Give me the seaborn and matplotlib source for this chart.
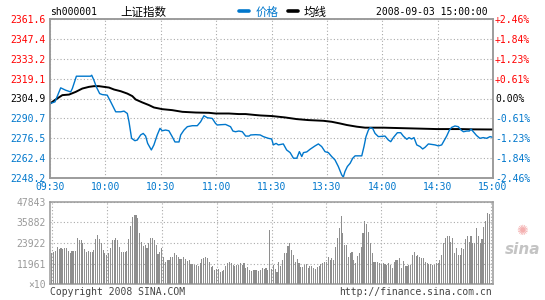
import matplotlib
matplotlib.use("Agg")
import matplotlib.pyplot as plt
import seaborn as sns
import pandas as pd
from matplotlib.lines import Line2D
from matplotlib.font_manager import FontProperties

# ---------------- data ----------------
price_min = [0, 2.7, 5.8, 8.5, 11.2, 12.1, 14.3, 22.0, 22.6, 23.8, 25.1, 26.9, 28.3, 31.0, 32.9,
             35.6, 38.3, 40.1, 41.9, 42.8, 44.2, 46.0, 47.3, 49.1, 50.5, 51.8, 52.9, 54.9, 56.3,
             58.1, 59.6, 60.8, 62.6, 64.4, 66.2, 67.7, 69.9, 70.8, 72.6, 74.4, 77.1, 79.8, 81.6,
             83.4, 85.2, 87.9, 89.7, 90.6, 92.4, 95.1, 97.8, 99.1, 100.5, 102.3, 104.2, 106.0,
             107.8, 108.7, 111.4, 113.9, 115.6, 118.3, 120.1, 121.0, 122.5, 123.7, 126.4, 128.2,
             130.1, 131.9, 133.7, 135.1, 136.4, 137.3, 139.1, 140.9, 143.6, 145.4, 147.2, 149.0,
             150.8, 152.6, 154.4, 156.2, 158.0, 158.9, 159.8, 161.1, 162.6, 164.0, 165.3, 168.9,
             170.1, 171.2, 172.5, 173.4, 174.8, 176.1, 177.9, 181.5, 183.3, 184.6, 186.0, 188.2,
             190.0, 191.4, 193.3, 194.5, 195.9, 197.2, 198.7, 200.5, 201.9, 203.2, 205.0, 208.6,
             210.4, 212.2, 213.5, 214.9, 216.4, 217.6, 219.4, 221.2, 222.7, 224.0, 225.8, 227.2,
             228.1, 229.5, 231.1, 232.9, 234.7, 236.5, 238.4, 240]
price_val = [2301.3, 2302.5, 2312.5, 2310.8, 2309.6, 2312.0, 2320.8, 2320.8, 2321.5, 2317.9,
             2313.2, 2308.4, 2307.7, 2307.3, 2302.5, 2295.4, 2295.4, 2295.9, 2294.2, 2288.3,
             2276.5, 2274.8, 2275.3, 2278.9, 2280.0, 2278.1, 2272.9, 2268.2, 2271.8, 2278.9,
             2283.6, 2281.9, 2282.4, 2281.9, 2277.7, 2273.9, 2273.9, 2278.9, 2282.4, 2284.8,
             2285.5, 2285.5, 2288.3, 2292.6, 2291.2, 2290.7, 2287.1, 2286.0, 2286.2, 2286.4,
             2284.8, 2281.7, 2281.2, 2281.7, 2281.2, 2278.1, 2278.1, 2278.9, 2279.1, 2278.9,
             2277.7, 2276.5, 2276.0, 2271.8, 2272.9, 2271.8, 2272.5, 2268.2, 2266.3, 2262.3,
             2262.3, 2267.0, 2263.5, 2266.3, 2266.8, 2268.7, 2271.1, 2272.5, 2270.6, 2267.0,
             2266.3, 2263.5, 2261.1, 2256.4, 2250.5, 2248.8, 2252.8, 2256.4, 2258.7, 2262.3,
             2264.0, 2264.0, 2270.6, 2277.7, 2282.4, 2284.1, 2283.6, 2280.0, 2277.7, 2278.1,
             2275.3, 2274.1, 2277.0, 2280.5, 2280.5, 2278.1, 2275.8, 2277.0, 2276.0, 2277.0,
             2271.8, 2270.6, 2268.9, 2270.1, 2272.5, 2271.8, 2271.1, 2271.8, 2274.8, 2278.1,
             2282.4, 2284.3, 2285.3, 2284.8, 2282.4, 2281.2, 2281.7, 2281.7, 2283.1, 2281.0,
             2278.5, 2276.5, 2277.0, 2276.5, 2277.7, 2277.2]

avg_min = [0, 3.1, 6.7, 10.3, 13.9, 17.5, 21.1, 23.8, 26.5, 29.2, 32.0, 34.7, 38.3, 41.9, 44.6,
           46.4, 50.0, 53.6, 56.3, 60.8, 66.2, 71.7, 78.9, 86.1, 89.7, 96.9, 102.3, 106.0, 111.4,
           114.1, 120.1, 127.3, 133.7, 140.0, 148.1, 152.6, 157.1, 160.8, 166.2, 170.7, 180.6,
           195.0, 209.5, 222.2, 229.0, 240]
avg_val = [2301.3, 2304.2, 2307.3, 2307.7, 2309.6, 2312.0, 2313.2, 2313.7, 2313.7, 2313.2,
           2312.7, 2311.3, 2310.1, 2308.4, 2306.6, 2304.2, 2302.1, 2300.2, 2298.5, 2297.3,
           2296.6, 2295.4, 2294.9, 2294.7, 2294.2, 2294.2, 2293.8, 2293.8, 2293.1, 2292.8,
           2292.4, 2291.4, 2290.2, 2289.5, 2289.0, 2288.3, 2287.1, 2286.0, 2284.8, 2284.1,
           2284.1, 2283.6, 2283.1, 2283.1, 2282.9, 2282.8]

vol_am = [17900, 18900, 19500, 21400, 20300, 20800, 20300, 20800, 20800, 19500, 17900, 19300,
          19500, 19500, 26600, 25700, 25700, 23700, 20300, 18900, 19300, 18900, 18500, 19900,
          26100, 28600, 26100, 23700, 19900, 17900,
          17000, 17900, 20800, 25700, 25700, 26600, 25700, 21800, 18500, 18900, 18500, 19500,
          26100, 33800, 38800, 40100, 40100, 38200, 29900, 24700, 22200, 22800, 20800, 24100,
          26600, 26600, 25700, 22800, 17600, 18900,
          20800, 15600, 13100, 14100, 14100, 15600, 15600, 17900, 17000, 16000, 14500, 14500,
          15600, 14500, 13700, 14100, 11600, 11600, 11200, 11200, 10800, 12200, 14500, 15100,
          15600, 15100, 12700, 10200, 10600, 8300,
          8900, 8900, 7300, 7900, 8300, 10600, 12200, 13100, 12200, 11200, 10600, 11200,
          11200, 12200, 11200, 12200, 9300, 10200, 8300, 7900, 8300, 8300, 8300, 7900,
          8300, 9300, 8700, 9300, 8300, 31500]
vol_pm = [8700, 11200, 8700, 7300, 13100, 10600, 14100, 17900, 17900, 22200, 23700, 19900,
          17000, 13100, 14500, 12500, 10200, 10200, 11200, 11600, 9300, 10600, 10600, 9300,
          8700, 10200, 10600, 11800, 12200, 13100,
          13100, 16000, 14100, 15100, 14100, 21800, 26600, 32400, 39600, 29500, 22800, 22800,
          16000, 17900, 18900, 14100, 12500, 16400, 17900, 21800, 29500, 36900, 34900, 30500,
          24100, 18300, 13100, 13100, 13100, 12500,
          11800, 12500, 11800, 11200, 12500, 11200, 9300, 13100, 14100, 14100, 15100, 9300,
          13500, 10600, 10600, 11200, 11200, 17000, 18500, 16400, 17000, 15600, 15100, 15100,
          13100, 12200, 11600, 11800, 11200, 11200,
          12200, 12200, 14100, 17000, 23700, 26600, 28000, 28000, 24700, 26600, 17900, 20800,
          17000, 17000, 20800, 20300, 26100, 28000, 24700, 28000, 24100, 24100, 32400, 28000,
          24100, 26200, 33400, 36900, 41500, 40700, 1000]

price_levels = [2248.2, 2262.4, 2276.5, 2290.7, 2304.9, 2319.1, 2333.2, 2347.4, 2361.6]
pct_labels = ["-2.46%", "-1.84%", "-1.23%", "-0.61%", "0.00%", "+0.61%", "+1.23%", "+1.84%", "+2.46%"]
time_ticks = [0, 30, 60, 90, 120, 150, 180, 210, 240]
time_labels = ["09:30", "10:00", "10:30", "11:00", "11:30", "13:30", "14:00", "14:30", "15:00"]
vol_levels = [0, 11961, 23922, 35882, 47843]
vol_labels = ["×10", "11961", "23922", "35882", "47843"]

# ---------------- style ----------------
sns.set_theme(style="white")
plt.rcParams['font.family'] = ['DejaVu Sans Mono', 'Noto Sans CJK SC']

BLUE = "#0077CC"
RED = "#FF0000"
GRID = "#AAAAAA"
SPINE = "#999999"
VOLC = "#8E8E8E"
TXT = "#444444"
CJK = FontProperties(family=['Noto Sans CJK SC', 'DejaVu Sans'], size=8.3)

fig = plt.figure(figsize=(5.45, 3.0), dpi=100)
W, H = 545.0, 300.0
ax = fig.add_axes([50 / W, 1 - 178 / H, 443 / W, 159 / H])
axv = fig.add_axes([50 / W, 1 - 284.3 / H, 443 / W, 82.6 / H])

price_df = pd.DataFrame({"minute": price_min, "price": price_val})
avg_df = pd.DataFrame({"minute": avg_min, "price": avg_val})

sns.lineplot(data=avg_df, x="minute", y="price", color="black", lw=1.4, ax=ax,
             legend=False, zorder=3)
sns.lineplot(data=price_df, x="minute", y="price", color=BLUE, lw=1.0, ax=ax,
             legend=False, zorder=4)

ax.set_xlim(0, 240)
ax.set_ylim(price_levels[0], price_levels[-1])
ax.set_xlabel("")
ax.set_ylabel("")
ax.set_yticks(price_levels)
ax.set_yticklabels([f"{v:.1f}" for v in price_levels])
ax.set_xticks(time_ticks)
ax.set_xticklabels(time_labels)
ax.tick_params(axis="y", length=0, pad=3, labelsize=7)
ax.tick_params(axis="x", length=0, pad=3, labelsize=7, labelcolor=BLUE)
ax.grid(True, color=GRID, linestyle=(0, (1, 2)), lw=0.8)
for i, t in enumerate(ax.get_yticklabels()):
    t.set_color(BLUE if i < 4 else ("black" if i == 4 else RED))

axr = ax.twinx()
axr.set_ylim(price_levels[0], price_levels[-1])
axr.set_yticks(price_levels)
axr.set_yticklabels(pct_labels)
axr.tick_params(axis="y", length=0, pad=1.5, labelsize=7)
for i, t in enumerate(axr.get_yticklabels()):
    t.set_color(BLUE if i < 4 else ("black" if i == 4 else RED))
axr.grid(False)

for a in (ax, axr, axv):
    for s in a.spines.values():
        s.set_color(SPINE)
        s.set_linewidth(1.1)
        s.set_visible(True)

# ---------------- volume ----------------
vol = vol_am + vol_pm
vol_df = pd.DataFrame({"minute": list(range(len(vol))), "volume": vol})
sns.barplot(data=vol_df, x="minute", y="volume", native_scale=True, color=VOLC,
            saturation=1, width=0.6, errorbar=None, linewidth=0, ax=axv, zorder=3)
axv.set_xlim(-1, 241)
axv.set_ylim(0, vol_levels[-1])
axv.set_xlabel("")
axv.set_ylabel("")
axv.set_xticks(time_ticks)
axv.set_xticklabels([])
axv.set_yticks(vol_levels)
axv.set_yticklabels(vol_labels)
axv.tick_params(axis="y", length=0, pad=3, labelsize=7, labelcolor="#999999")
axv.tick_params(axis="x", length=0)
axv.grid(True, color=GRID, linestyle=(0, (1, 2)), lw=0.8, zorder=0)
axv.set_axisbelow(True)

# ---------------- header / footer ----------------
fig.text(50 / W, 1 - 12 / H, "sh000001", fontsize=7, va="center", ha="left", color="black")
fig.text(120 / W, 1 - 12 / H, "上证指数", fontproperties=CJK, va="center", ha="left", color="black")
fig.text(488 / W, 1 - 12 / H, "2008-09-03 15:00:00", fontsize=7, va="center", ha="right",
         color="black")
leg = fig.legend(handles=[Line2D([], [], color=BLUE, lw=2.6), Line2D([], [], color="black", lw=2.6)],
                 labels=["价格", "均线"], loc="center left", bbox_to_anchor=(239 / W, 1 - 12 / H),
                 ncol=2, frameon=False, handlelength=0.9, handletextpad=0.5, columnspacing=0.85,
                 prop=CJK, borderpad=0, borderaxespad=0)
leg.get_texts()[0].set_color(BLUE)
leg.get_texts()[1].set_color("black")

fig.text(50 / W, 1 - 292 / H, "Copyright 2008 SINA.COM", fontsize=7, va="center", ha="left",
         color=TXT)
fig.text(492 / W, 1 - 292 / H, "http://finance.sina.com.cn", fontsize=7, va="center", ha="right",
         color=TXT)

# sina logo
fig.text(522 / W, 1 - 231 / H, "✺", fontsize=10, family="DejaVu Sans", color="#F4AFAF",
         ha="center", va="center")
fig.text(523 / W, 1 - 250 / H, "sina", fontsize=11, family="DejaVu Sans", style="italic",
         weight="bold", color="#C4C4C4", ha="center", va="center")

fig.savefig("out.png", dpi=100)
